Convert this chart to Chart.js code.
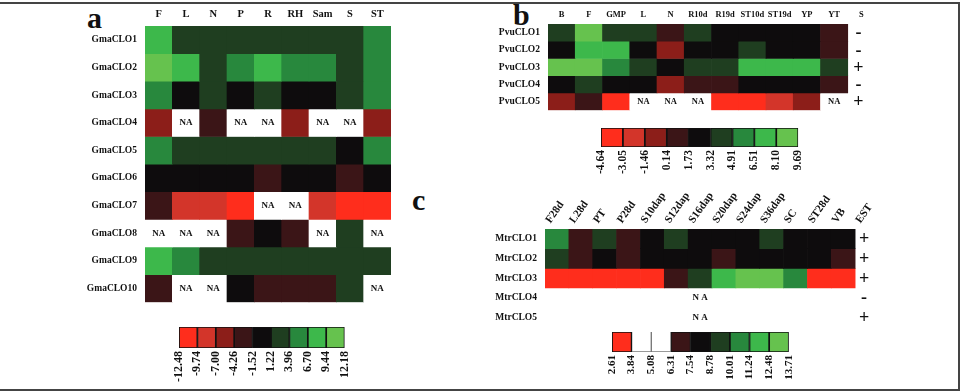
<!DOCTYPE html>
<html>
<head>
<meta charset="utf-8">
<script src="https://cdn.jsdelivr.net/npm/chart.js@4.4.1/dist/chart.umd.min.js"></script>
<style>
  html, body { margin: 0; padding: 0; background: #fff; }
  #page { position: relative; width: 961px; height: 392px; overflow: hidden; }
  canvas { position: absolute; }
  .frame { position: absolute; left: -5px; top: 2px; width: 965px; height: 389px; box-sizing: border-box; border: 2px solid #444; }
  .tag { position: absolute; font: bold 30px/30px 'Liberation Serif', serif; color: #111; }
</style>
</head>
<body>
<div id="page">
  <div class="frame"></div>
  <div class="tag" style="left:87px;top:3px">a</div>
  <div class="tag" style="left:513px;top:0px">b</div>
  <div class="tag" style="left:412px;top:185px">c</div>
  <canvas id="heatA" width="351" height="311" style="left:40px;top:5px"></canvas>
  <canvas id="heatB" width="397" height="119" style="left:478px;top:5px"></canvas>
  <canvas id="heatC" width="412" height="155" style="left:470px;top:186px"></canvas>
  <canvas id="keyA" width="193" height="61" style="left:169px;top:327px"></canvas>
  <canvas id="keyB" width="224" height="50" style="left:591px;top:128px"></canvas>
  <canvas id="keyC" width="203" height="52" style="left:602px;top:332px"></canvas>
</div>
<script>
// ==== Panel a: Gma ====
const gmaTissues = ['F', 'L', 'N', 'P', 'R', 'RH', 'Sam', 'S', 'ST'];
const gmaGenes = ['GmaCLO1', 'GmaCLO2', 'GmaCLO3', 'GmaCLO4', 'GmaCLO5', 'GmaCLO6', 'GmaCLO7', 'GmaCLO8', 'GmaCLO9', 'GmaCLO10'];
const gmaTicks = [-12.48, -9.74, -7.00, -4.26, -1.52, 1.22, 3.96, 6.70, 9.44, 12.18];
const gmaCLO1 = [8.2, 2.4, 2.6, 2.5, 2.7, 2.5, 2.6, 2.4, 5.2];
const gmaCLO2 = [10.9, 8.0, 2.6, 5.1, 8.3, 5.4, 5.2, 2.5, 5.3];
const gmaCLO3 = [5.0, -0.3, 2.3, -0.1, 2.7, -0.4, -0.2, 2.5, 5.4];
const gmaCLO4 = [-5.8, null, -2.8, null, null, -5.5, null, null, -5.7];
const gmaCLO5 = [5.1, 2.6, 2.4, 2.5, 2.7, 2.6, 2.5, 0.1, 5.3];
const gmaCLO6 = [-0.2, 0.0, -0.3, 0.1, -2.6, -0.2, 0.2, -2.7, -0.1];
const gmaCLO7 = [-3.0, -8.5, -8.3, -11.2, null, null, -8.2, -11.5, -11.3];
const gmaCLO8 = [null, null, null, -2.9, -0.4, -2.8, null, 2.4, null];
const gmaCLO9 = [8.4, 5.5, 2.6, 2.5, 2.7, 2.4, 2.6, 2.5, 2.6];
const gmaCLO10 = [-2.7, null, null, 0.2, -2.9, -3.1, -2.8, 2.6, null];

// ==== Panel b: Pvu ====
const pvuTissues = ['B', 'F', 'GMP', 'L', 'N', 'R10d', 'R19d', 'ST10d', 'ST19d', 'YP', 'YT'];
const pvuGenes = ['PvuCLO1', 'PvuCLO2', 'PvuCLO3', 'PvuCLO4', 'PvuCLO5'];
const pvuTicks = [-4.64, -3.05, -1.46, 0.14, 1.73, 3.32, 4.91, 6.51, 8.10, 9.69];
const pvuCLO1 = [4.0, 8.9, 4.2, 3.9, 0.9, 4.1, 2.5, 2.6, 2.4, 2.5, 1.0];
const pvuCLO2 = [2.4, 7.3, 7.2, 2.6, -0.7, 2.5, 2.4, 4.2, 2.6, 2.5, 0.8];
const pvuCLO3 = [8.8, 9.0, 5.6, 4.0, 2.5, 4.1, 4.2, 7.2, 7.3, 7.4, 4.0];
const pvuCLO4 = [2.5, 4.1, 2.6, 2.4, -0.6, 0.9, 1.0, 2.5, 2.3, 2.6, 0.9];
const pvuCLO5 = [-0.7, 0.8, -3.9, null, null, null, -4.0, -3.8, -2.3, -0.6, null];
const pvuSigns = ['-', '-', '+', '-', '+'];

// ==== Panel c: Mtr ====
const mtrTissues = ['F28d', 'L28d', 'PT', 'P28d', 'S10dap', 'S12dap', 'S16dap', 'S20dap', 'S24dap', 'S36dap', 'SC', 'ST28d', 'VB'];
const mtrGenes = ['MtrCLO1', 'MtrCLO2', 'MtrCLO3', 'MtrCLO4', 'MtrCLO5'];
const mtrTicks = [2.61, 3.84, 5.08, 6.31, 7.54, 8.78, 10.01, 11.24, 12.48, 13.71];
const mtrCLO1 = [10.6, 6.9, 9.4, 7.0, 8.2, 9.3, 8.1, 8.3, 8.2, 9.5, 8.0, 8.2, 8.1];
const mtrCLO2 = [9.4, 6.8, 8.1, 6.9, 8.2, 8.0, 8.3, 6.9, 8.1, 8.2, 8.0, 8.1, 7.0];
const mtrCLO3 = [3.0, 3.1, 3.2, 3.0, 3.1, 6.8, 9.5, 11.8, 13.2, 13.1, 10.7, 3.1, 3.2];
const mtrCLO4 = [null, null, null, null, null, null, null, null, null, null, null, null, null];
const mtrCLO5 = [null, null, null, null, null, null, null, null, null, null, null, null, null];
const mtrSigns = ['+', '+', '+', '-', '+'];

// colour bins, red (low) to green (high)
const redGreen = ['#ff2d1c', '#d3352a', '#8c1e19', '#3b1517', '#0e0c0d', '#1f3e20', '#28883d', '#3db84b', '#66c24e'];
const mtrColours = ['#ff2d1c', '#ffffff', '#ffffff', '#3b1517', '#0e0c0d', '#1f3e20', '#28883d', '#3db84b', '#66c24e'];

Chart.defaults.font.family = "'Liberation Serif', 'Times New Roman', serif";
Chart.defaults.font.weight = 'bold';
Chart.defaults.color = '#111';

function binColour(val, ticks, palette) {
  if (val === null) return '#ffffff';
  for (let i = 0; i < palette.length; i++) {
    if (val <= ticks[i + 1]) return palette[i];
  }
  return palette[palette.length - 1];
}

// writes NA into empty cells and the +/- column
function cellText(rows, look) {
  return {
    id: 'cellText',
    afterDatasetsDraw(chart) {
      const { ctx } = chart;
      const x = chart.scales.x, v = chart.scales.v;
      ctx.save();
      ctx.textAlign = 'center';
      ctx.textBaseline = 'middle';
      ctx.fillStyle = '#111';
      rows.forEach((row, r) => {
        const yc = (v.getPixelForValue(r) + v.getPixelForValue(r + 1)) / 2;
        ctx.font = look.naFont;
        if (row.every(val => val === null)) {
          const xc = (x.getPixelForValue(0) + x.getPixelForValue(row.length - 1)) / 2;
          ctx.fillText('N A', xc, yc);
        } else {
          row.forEach((val, c) => {
            if (val === null) ctx.fillText('NA', x.getPixelForValue(c), yc);
          });
        }
        if (look.signs) {
          ctx.font = "bold 18px 'Liberation Serif', serif";
          ctx.fillText(look.signs[r], x.getPixelForValue(row.length) - 3, yc + 1);
        }
      });
      ctx.restore();
    }
  };
}

function drawHeatmap(id, tissues, genes, rows, ticks, palette, look) {
  const labels = look.signs ? tissues.concat(look.signHead) : tissues;
  const datasets = rows.map(row => ({
    data: row.map(() => 1),
    backgroundColor: row.map(val => binColour(val, ticks, palette)),
    yAxisID: 'v',
    borderWidth: 0,
    categoryPercentage: 1,
    barPercentage: 1
  }));
  new Chart(document.getElementById(id), {
    type: 'bar',
    data: { labels, datasets },
    options: {
      responsive: false,
      animation: false,
      layout: { padding: 0 },
      plugins: { legend: { display: false }, tooltip: { enabled: false } },
      scales: {
        x: {
          position: 'top',
          stacked: true,
          grid: { display: false, drawTicks: false },
          border: { display: false },
          ticks: {
            font: { size: look.colSize, weight: 'bold' },
            padding: look.colPad,
            minRotation: look.rot,
            maxRotation: look.rot,
            autoSkip: false,
            labelOffset: look.labelOffset || 0
          },
          afterFit: s => { s.height = look.headH; }
        },
        v: { axis: 'y', type: 'linear', display: false, stacked: true, reverse: true, min: 0, max: genes.length },
        rows: {
          axis: 'y',
          type: 'category',
          position: 'left',
          labels: genes,
          offset: true,
          grid: { display: false, drawTicks: false },
          border: { display: false },
          ticks: { font: { size: 9.5, weight: 'bold' }, padding: look.rowPad },
          afterFit: s => { s.width = look.rowW; }
        }
      }
    },
    plugins: [cellText(rows, look)]
  });
}

function drawKey(id, ticks, palette, look) {
  const datasets = palette.map(c => ({
    data: [1],
    backgroundColor: c,
    borderColor: c === '#ffffff' ? '#777' : '#111',
    borderWidth: c === '#ffffff' ? { top: 0, right: 1, bottom: 1, left: 1 } : 1.2,
    borderSkipped: false,
    categoryPercentage: 1,
    barPercentage: 1
  }));
  new Chart(document.getElementById(id), {
    type: 'bar',
    data: { labels: [''], datasets },
    options: {
      indexAxis: 'y',
      responsive: false,
      animation: false,
      layout: { padding: { left: 10, right: 10, top: 0, bottom: 0 } },
      plugins: { legend: { display: false }, tooltip: { enabled: false } },
      scales: {
        y: { display: false, stacked: true },
        x: {
          stacked: true,
          min: 0,
          max: palette.length,
          grid: { display: false, drawTicks: false },
          border: { display: false },
          ticks: {
            stepSize: 1,
            autoSkip: false,
            minRotation: 90,
            maxRotation: 90,
            padding: 3,
            font: { size: look.size, weight: 'bold' },
            callback: v => ticks[Math.round(v)].toFixed(2)
          },
          afterFit: s => { s.height = look.labelH; }
        }
      }
    }
  });
}

// ==== Draw ====
drawHeatmap('heatA', gmaTissues, gmaGenes,
  [gmaCLO1, gmaCLO2, gmaCLO3, gmaCLO4, gmaCLO5, gmaCLO6, gmaCLO7, gmaCLO8, gmaCLO9, gmaCLO10],
  gmaTicks, redGreen,
  { colSize: 10.5, colPad: 5, rot: 0, headH: 21, rowW: 105, rowPad: 8, naFont: "bold 9px 'Liberation Serif', serif" });

drawHeatmap('heatB', pvuTissues, pvuGenes,
  [pvuCLO1, pvuCLO2, pvuCLO3, pvuCLO4, pvuCLO5],
  pvuTicks, redGreen,
  { colSize: 8.5, colPad: 4, rot: 0, headH: 19, rowW: 70, rowPad: 8, signs: pvuSigns, signHead: 'S', naFont: "bold 8.5px 'Liberation Serif', serif" });

drawHeatmap('heatC', mtrTissues, mtrGenes,
  [mtrCLO1, mtrCLO2, mtrCLO3, mtrCLO4, mtrCLO5],
  mtrTicks, mtrColours,
  { colSize: 11, colPad: 3, rot: 55, labelOffset: 2, headH: 43, rowW: 75, rowPad: 8, signs: mtrSigns, signHead: 'EST', naFont: "bold 9px 'Liberation Serif', serif" });

drawKey('keyA', gmaTicks, redGreen, { size: 12, labelH: 40 });
drawKey('keyB', pvuTicks, redGreen, { size: 11.5, labelH: 31 });
drawKey('keyC', mtrTicks, mtrColours, { size: 11, labelH: 32 });
</script>
</body>
</html>
